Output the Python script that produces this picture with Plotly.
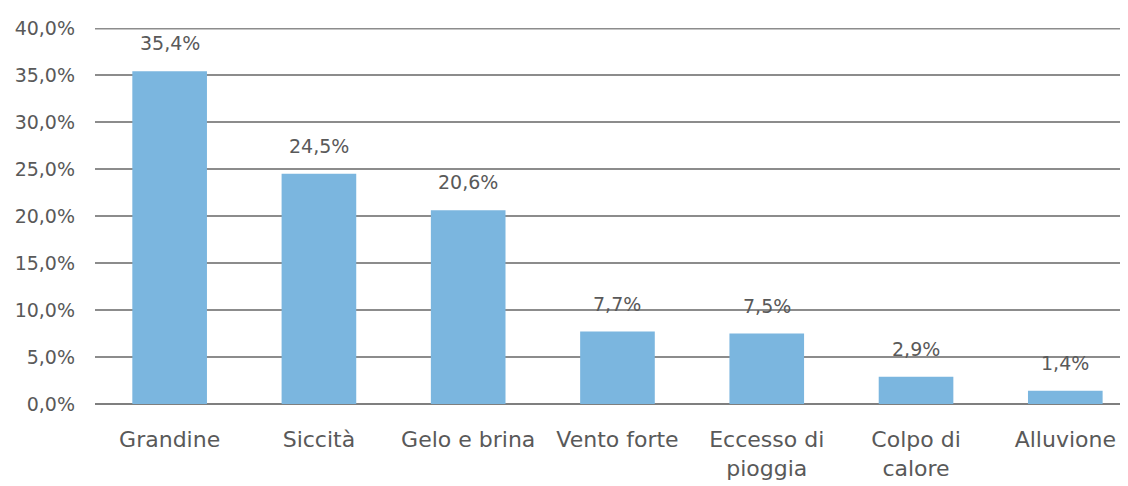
import plotly.graph_objects as go

categories = ["Grandine", "Siccità", "Gelo e brina", "Vento forte",
              "Eccesso di<br>pioggia", "Colpo di<br>calore", "Alluvione"]
values = [35.4, 24.5, 20.6, 7.7, 7.5, 2.9, 1.4]
value_labels = ["35,4%", "24,5%", "20,6%", "7,7%", "7,5%", "2,9%", "1,4%"]
y_ticks = [0, 5, 10, 15, 20, 25, 30, 35, 40]
y_tick_labels = ["0,0%", "5,0%", "10,0%", "15,0%", "20,0%", "25,0%", "30,0%", "35,0%", "40,0%"]

FONT = "'DejaVu Sans', sans-serif"
TXT = "#595959"
GRID = "#8C8C8C"

fig = go.Figure()
fig.add_trace(go.Bar(
    x=categories, y=values, width=0.5,
    marker=dict(color="#7BB6DF", line=dict(width=0)),
    hoverinfo="skip",
))

for c, v, lab in zip(categories, values, value_labels):
    fig.add_annotation(x=c, y=v, text=lab, showarrow=False, yshift=28,
                       font=dict(family=FONT, size=19, color=TXT))

# top gridline (plotly hides grid lines on the plot edge; half of it is clipped)
fig.add_hline(y=y_ticks[-1], line=dict(color=GRID, width=3), layer="below")

# page body has an 8px default margin, so the figure is offset by 8px
fig.update_layout(
    width=1120, height=478,
    margin=dict(l=86.5, r=0, t=20, b=82, autoexpand=False),
    paper_bgcolor="white", plot_bgcolor="white",
    showlegend=False,
    font=dict(family=FONT, size=19, color=TXT),
    xaxis=dict(range=[-0.5, 6.42], showgrid=False, showline=False,
               ticks="", tickfont=dict(family=FONT, size=22, color=TXT),
               ticklabelstandoff=20, automargin=False),
    yaxis=dict(range=[0, 40], tickmode="array", tickvals=y_ticks, ticktext=y_tick_labels,
               showgrid=True, gridcolor=GRID, gridwidth=1.5,
               zeroline=True, zerolinecolor="#7F7F7F", zerolinewidth=2,
               showline=False, ticks="", automargin=False,
               tickfont=dict(family=FONT, size=19, color=TXT),
               ticklabelstandoff=19),
)

fig.write_html("out.html")
